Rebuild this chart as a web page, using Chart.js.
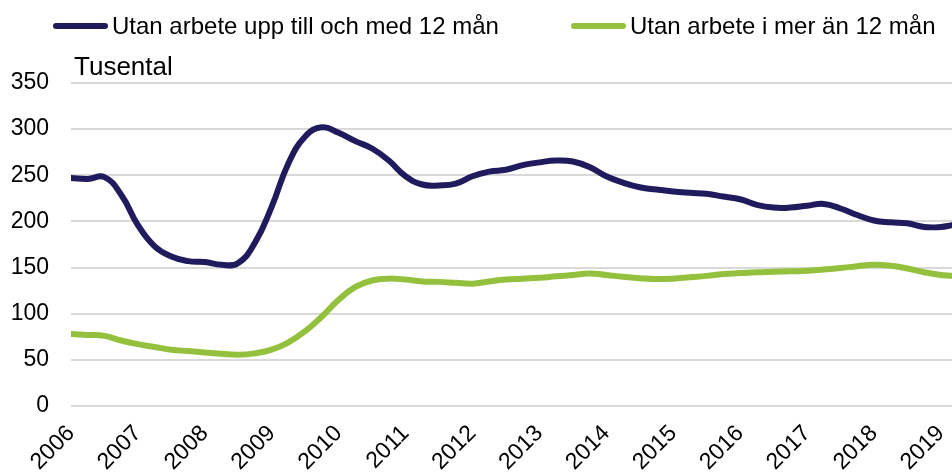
<!DOCTYPE html>
<html>
<head>
<meta charset="utf-8">
<script src="https://cdn.jsdelivr.net/npm/chart.js@4.4.1/dist/chart.umd.min.js"></script>
<style>
  html, body { margin: 0; padding: 0; background: #ffffff; }
  #wrap { width: 952px; height: 472px; position: relative; }
</style>
</head>
<body>
<div id="wrap"><canvas id="c"></canvas></div>
<script>
// ---- Data (thousands), quarterly readings; x = decimal year ----
const timePoints = [
  2006.00, 2006.25, 2006.50, 2006.75,
  2007.00, 2007.25, 2007.50, 2007.75,
  2008.00, 2008.25, 2008.50, 2008.75,
  2009.00, 2009.25, 2009.50, 2009.75,
  2010.00, 2010.25, 2010.50, 2010.75,
  2011.00, 2011.25, 2011.50, 2011.75,
  2012.00, 2012.25, 2012.50, 2012.75,
  2013.00, 2013.25, 2013.50, 2013.75,
  2014.00, 2014.25, 2014.50, 2014.75,
  2015.00, 2015.25, 2015.50, 2015.75,
  2016.00, 2016.25, 2016.50, 2016.75,
  2017.00, 2017.25, 2017.50, 2017.75,
  2018.00, 2018.25, 2018.50, 2018.75,
  2019.00, 2019.1667
];
const upTo12Months = [
  247, 246, 248, 229,
  196, 173, 162, 157,
  156, 153, 155, 177,
  216, 263, 292, 302,
  296, 287, 279, 266,
  249, 240, 239, 241,
  249, 254, 256, 261,
  264, 266, 265, 259,
  249, 242, 237, 234.5,
  232.5, 231, 230, 227,
  224, 218, 215, 215,
  217, 219, 214, 207,
  201, 199, 198, 194,
  194, 196
];
const over12Months = [
  78, 77, 76, 71,
  67, 64, 61, 59.5,
  58, 56.5, 55.5, 57,
  61, 69, 81, 97,
  115, 129, 136, 138,
  137, 135, 134.5, 133.5,
  132.5, 135, 137, 138,
  139, 140.5, 142, 143.5,
  142, 140, 138.5, 137.5,
  138, 139.5, 141, 143,
  144, 145, 145.5, 146,
  146.5, 148, 149.5, 151.5,
  153, 152, 149, 145,
  142, 141
];
const seriesNames = ['Utan arbete upp till och med 12 mån', 'Utan arbete i mer än 12 mån'];
const yTicks = [0, 50, 100, 150, 200, 250, 300, 350];
const yUnit = 'Tusental';
const xStartYear = 2006;
const xEndYear = 2019.1667;

const FONT = "'Liberation Sans', Arial, sans-serif";
const BLUE = '#1f1b5c';
const GREEN = '#94c13d';

const toPoints = (vals) => vals.map((v, i) => ({ x: timePoints[i], y: v }));

// custom legend + unit label drawn on the canvas
const extras = {
  id: 'extras',
  afterDraw(chart) {
    const ctx = chart.ctx;
    const ca = chart.chartArea;
    ctx.save();
    // unit label
    ctx.fillStyle = '#000';
    ctx.font = '26px ' + FONT;
    ctx.textAlign = 'left';
    ctx.textBaseline = 'alphabetic';
    ctx.fillText(yUnit, ca.left + 3, ca.top - 8);
    // legend
    const itemX = [53, 571];
    const lineLen = 55;
    const cy = 26;
    ctx.font = '24px ' + FONT;
    chart.data.datasets.forEach((ds, i) => {
      const x0 = itemX[i];
      ctx.strokeStyle = ds.borderColor;
      ctx.lineWidth = 6;
      ctx.lineCap = 'round';
      ctx.beginPath();
      ctx.moveTo(x0 + 3, cy);
      ctx.lineTo(x0 + lineLen - 3, cy);
      ctx.stroke();
      ctx.fillStyle = '#000';
      ctx.textBaseline = 'middle';
      ctx.fillText(ds.label, x0 + lineLen + 4, cy + 1);
    });
    ctx.restore();
  }
};

new Chart(document.getElementById('c'), {
  type: 'line',
  data: {
    datasets: [
      {
        label: seriesNames[0],
        data: toPoints(upTo12Months),
        borderColor: BLUE,
        backgroundColor: BLUE,
        borderWidth: 6,
        pointRadius: 0,
        tension: 0.45,
        borderCapStyle: 'round',
        borderJoinStyle: 'round',
        fill: false
      },
      {
        label: seriesNames[1],
        data: toPoints(over12Months),
        borderColor: GREEN,
        backgroundColor: GREEN,
        borderWidth: 6,
        pointRadius: 0,
        tension: 0.45,
        borderCapStyle: 'round',
        borderJoinStyle: 'round',
        fill: false
      }
    ]
  },
  options: {
    responsive: true,
    maintainAspectRatio: false,
    animation: false,
    layout: { padding: { top: 83, left: 0, right: 0, bottom: 0 } },
    plugins: {
      legend: { display: false },
      tooltip: { enabled: false }
    },
    scales: {
      x: {
        type: 'linear',
        min: xStartYear,
        max: xEndYear,
        grid: { display: false, drawTicks: false },
        border: { display: false },
        afterFit(s) { s.height = 66; s.paddingLeft = 0; s.paddingRight = 0; },
        ticks: {
          stepSize: 1,
          includeBounds: false,
          autoSkip: false,
          maxRotation: 45,
          minRotation: 45,
          padding: 14,
          color: '#000',
          font: { family: FONT, size: 23 },
          callback: (v) => String(v)
        }
      },
      y: {
        min: yTicks[0],
        max: yTicks[yTicks.length - 1],
        grid: { color: '#d9d9d9', lineWidth: 2, drawTicks: false },
        border: { display: false },
        afterFit(s) { s.width = 71; },
        afterBuildTicks(s) { s.ticks = yTicks.map(v => ({ value: v })); },
        ticks: {
          padding: 22,
          color: '#000',
          font: { family: FONT, size: 23 }
        }
      }
    }
  },
  plugins: [extras]
});
</script>
</body>
</html>
